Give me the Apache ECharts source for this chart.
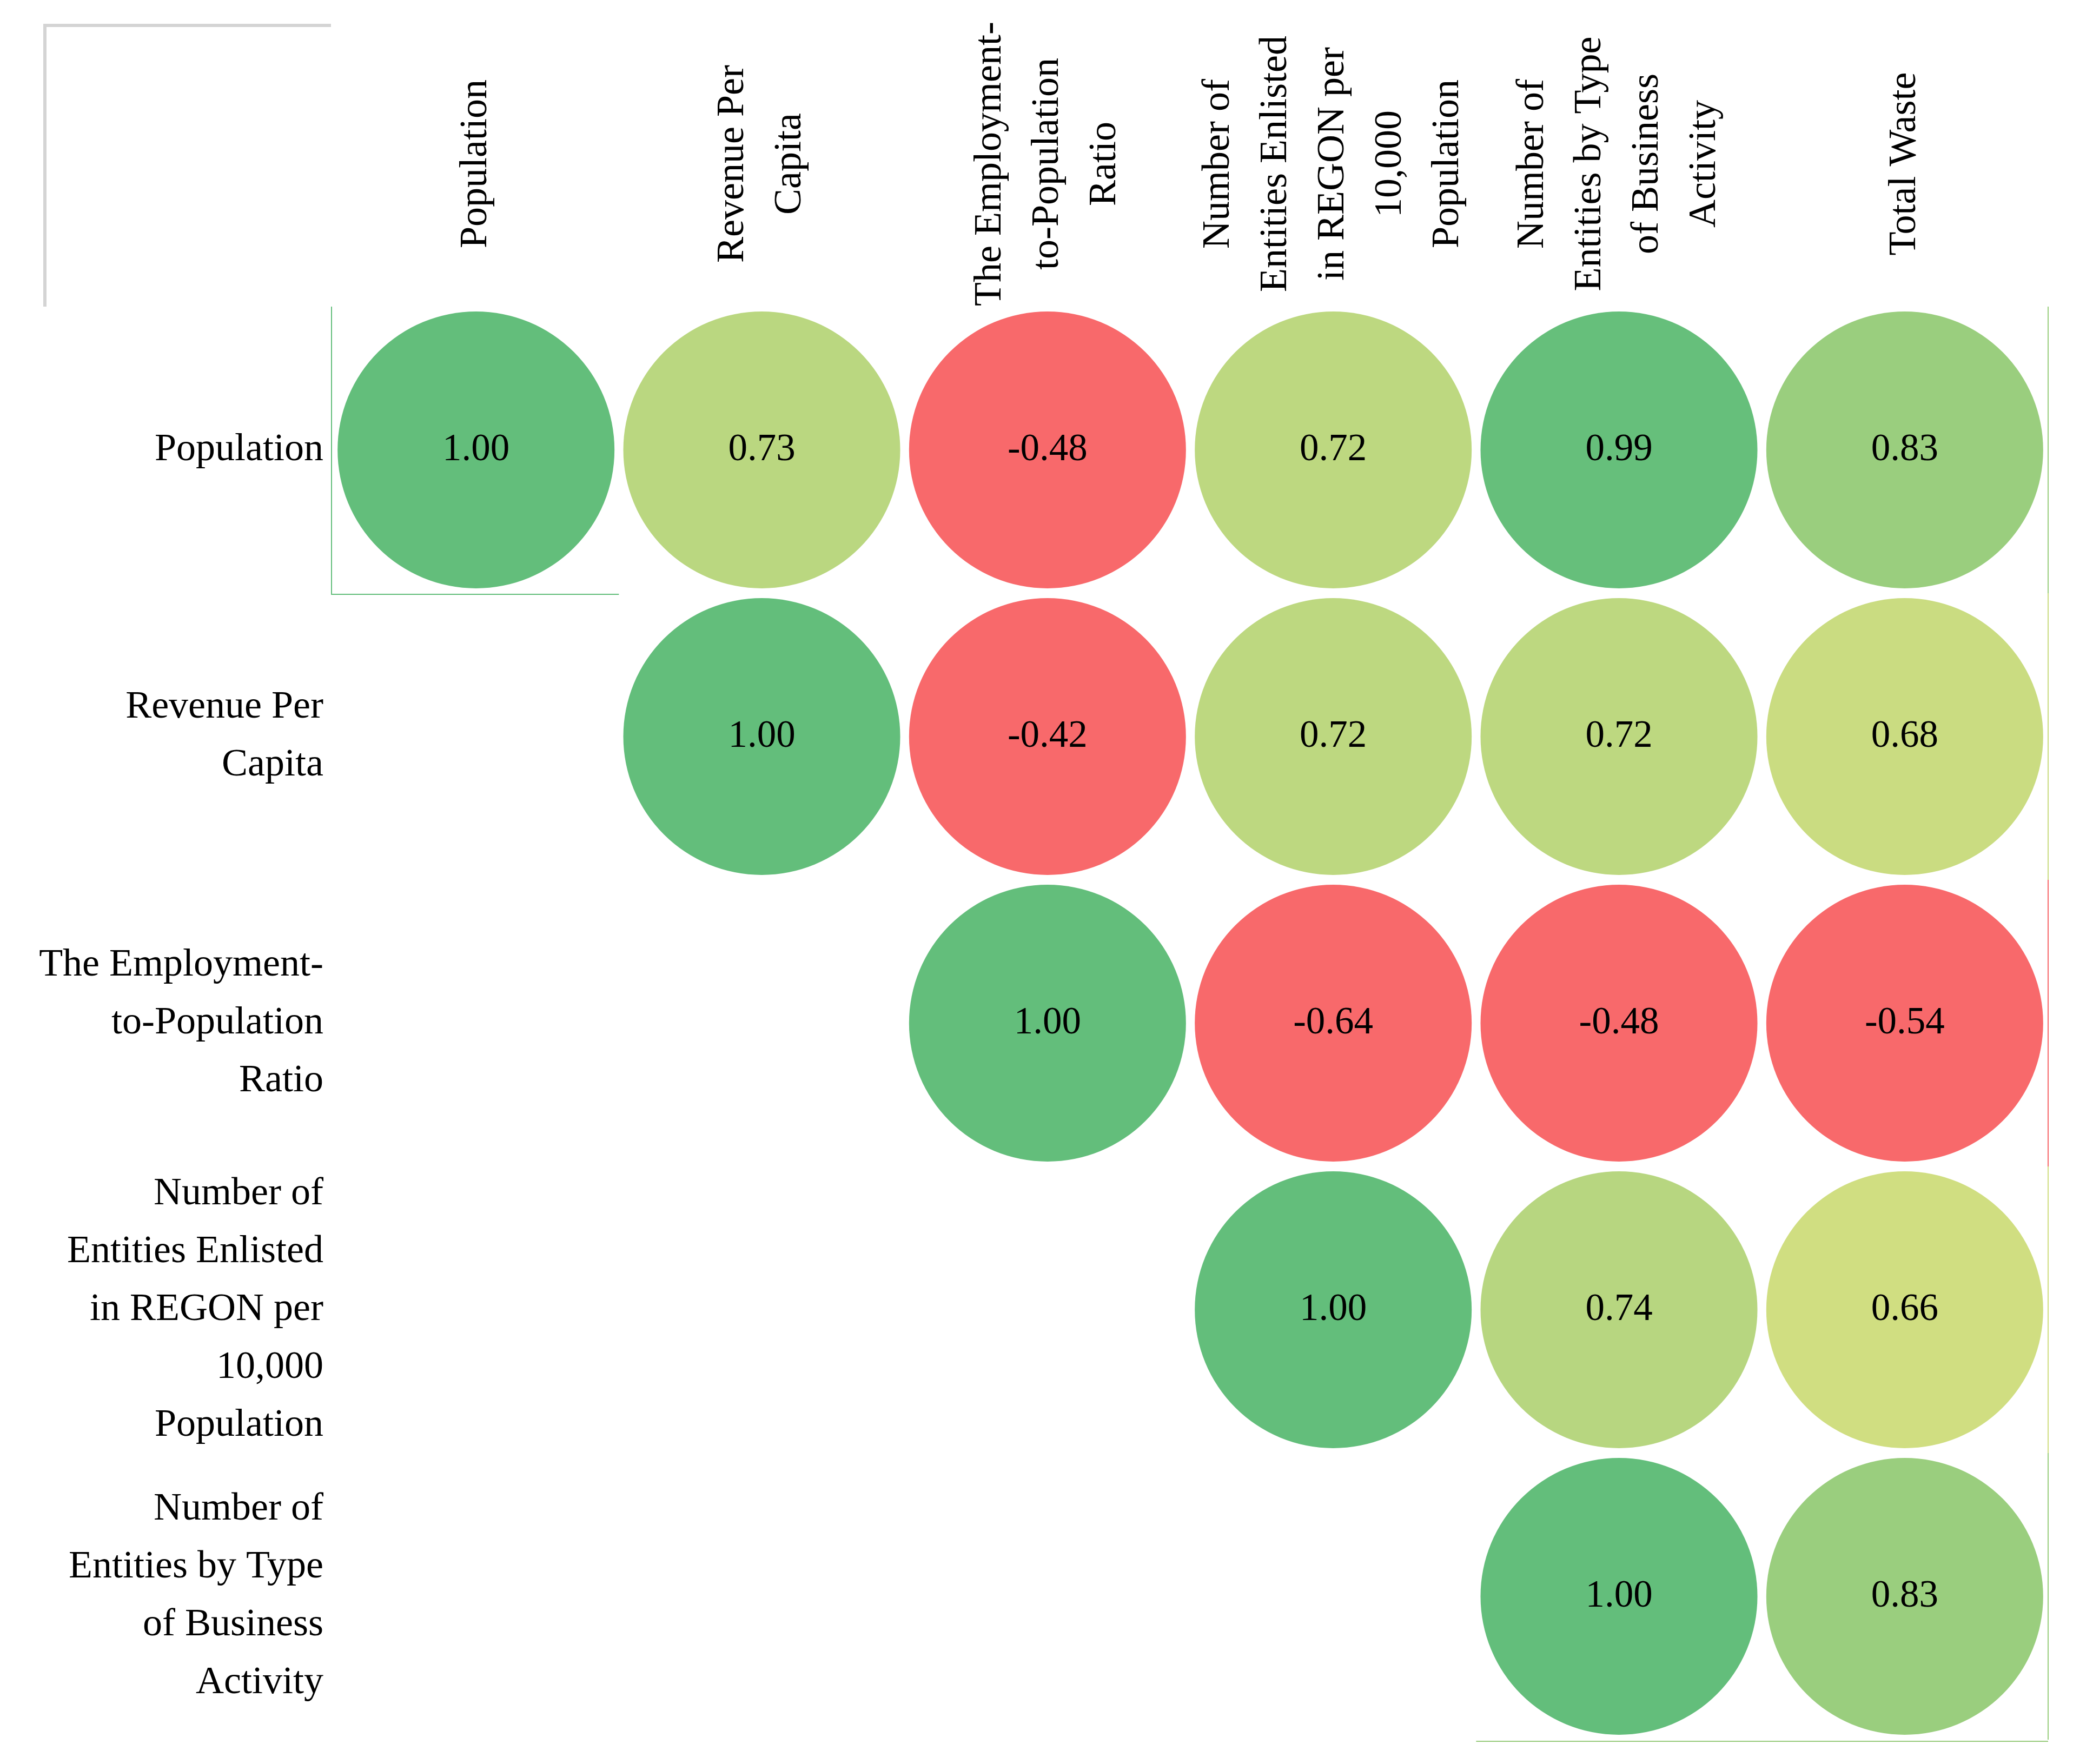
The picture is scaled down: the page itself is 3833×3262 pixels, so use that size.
<!DOCTYPE html>
<html>
<head>
<meta charset="utf-8">
<script src="https://cdn.jsdelivr.net/npm/echarts@6/dist/echarts.min.js"></script>
<style>html,body{margin:0;padding:0;background:#fff;}#c{width:3833px;height:3262px;}</style>
</head>
<body>
<div id="c"></div>
<script>
const colHeaders = [
  'Population',
  'Revenue Per\nCapita',
  'The Employment-\nto-Population\nRatio',
  'Number of\nEntities Enlisted\nin REGON per\n10,000\nPopulation',
  'Number of\nEntities by Type\nof Business\nActivity',
  'Total Waste'
];
const rowLabels = [
  'Population',
  'Revenue Per\nCapita',
  'The Employment-\nto-Population\nRatio',
  'Number of\nEntities Enlisted\nin REGON per\n10,000\nPopulation',
  'Number of\nEntities by Type\nof Business\nActivity'
];
// upper triangle (null = empty cell)
const row0 = [1.00, 0.73, -0.48, 0.72, 0.99, 0.83];
const row1 = [null, 1.00, -0.42, 0.72, 0.72, 0.68];
const row2 = [null, null, 1.00, -0.64, -0.48, -0.54];
const row3 = [null, null, null, 1.00, 0.74, 0.66];
const row4 = [null, null, null, null, 1.00, 0.83];
const matrix = [row0, row1, row2, row3, row4];

function corrColor(v) {
  if (v < 0) return '#F8696B';
  const t = Math.max(0, Math.min(1, (1 - v) / 0.485));
  const g = [0x63, 0xBE, 0x7B], y = [0xFF, 0xEB, 0x84];
  const c = g.map((a, k) => Math.round(a + (y[k] - a) * t));
  return 'rgb(' + c.join(',') + ')';
}

const data = [];
matrix.forEach((row, i) => row.forEach((v, j) => { if (v !== null) data.push([j, i, v]); }));

const FONT = 'Liberation Serif';
const chart = echarts.init(document.getElementById('c'), null, {renderer: 'canvas'});
const G = {left: 616, right: 47, top: 567, bottom: 45};
chart.setOption({
  backgroundColor: '#ffffff',
  animation: false,
  grid: G,
  xAxis: {
    type: 'category', position: 'top', data: colHeaders,
    axisLine: {show: false}, axisTick: {show: false}, splitLine: {show: false},
    axisLabel: {interval: 0, rotate: -90, align: 'center', verticalAlign: 'middle',
      margin: 264, fontSize: 72, lineHeight: 106, fontFamily: FONT, color: '#000'}
  },
  yAxis: {
    type: 'category', inverse: true, data: rowLabels,
    axisLine: {show: false}, axisTick: {show: false}, splitLine: {show: false},
    axisLabel: {interval: 0, margin: 18, fontSize: 72, lineHeight: 107, fontFamily: FONT, color: '#000'}
  },
  series: [{
    type: 'scatter', symbol: 'circle', symbolSize: 512,
    data: data,
    itemStyle: {opacity: 1, color: p => corrColor(p.value[2])},
    label: {show: true, position: 'inside', fontSize: 71, fontFamily: FONT, color: '#000',
      formatter: p => p.value[2].toFixed(2)}
  }]
});

// decorative cell borders, derived from grid geometry
const W = 3833 - G.left - G.right, H = 3262 - G.top - G.bottom;
const cw = W / colHeaders.length, ch = H / rowLabels.length;
const gx = G.left, gy = G.top, rx = G.left + W, by = G.top + H;
const graphics = [
  {type: 'polyline', shape: {points: [[83, gy], [83, 47], [gx - 4, 47]]}, style: {stroke: '#D4D4D4', lineWidth: 6, fill: null}},
  {type: 'polyline', shape: {points: [[gx - 3, gy], [gx - 3, gy + ch + 2], [gx + cw, gy + ch + 2]]}, style: {stroke: '#63BE7B', lineWidth: 2, fill: null}}
];
matrix.forEach((row, i) => {
  graphics.push({type: 'line', shape: {x1: rx + 1, y1: gy + i * ch, x2: rx + 1, y2: gy + (i + 1) * ch},
    style: {stroke: corrColor(row[row.length - 1]), lineWidth: 2}});
});
graphics.push({type: 'line', shape: {x1: gx + 4 * cw, y1: by + 3, x2: rx + 1, y2: by + 3}, style: {stroke: '#98CB7C', lineWidth: 2}});
chart.setOption({graphic: graphics});
</script>
</body>
</html>
